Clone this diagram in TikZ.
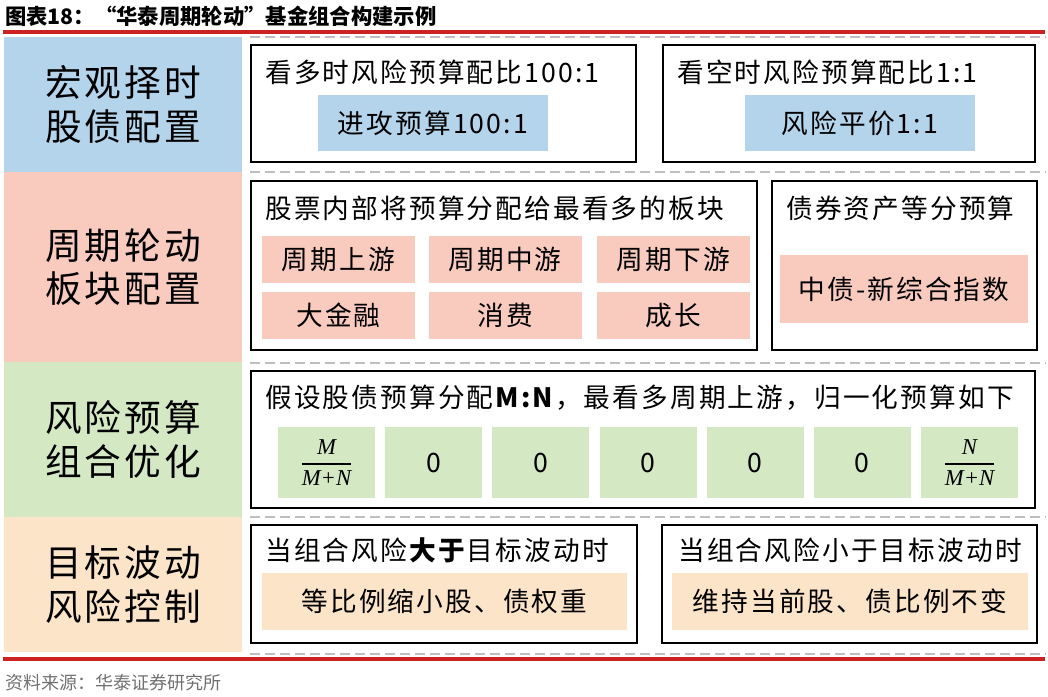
\documentclass[tikz,border=0pt]{standalone}
\usepackage{amsmath}
\usepackage{fontspec}
\setmainfont{Noto Sans CJK SC}
\newfontfamily\spacedcjk{Noto Sans CJK SC}[LetterSpace=8]
\newfontfamily\fracserif{Liberation Serif}
\usepackage{xcolor}
\usetikzlibrary{positioning}
\definecolor{titlered}{HTML}{CC2222}
\definecolor{sepgray}{HTML}{BEBEBE}
\definecolor{srcgray}{HTML}{707070}
\definecolor{skyblue}{HTML}{B3D4EB}
\definecolor{salmon}{HTML}{F8CBBE}
\definecolor{sage}{HTML}{D5E8C4}
\definecolor{peach}{HTML}{FCE4C8}
\newcommand{\wfrac}[2]{{\fracserif\itshape\fontsize{17}{19}\selectfont$\genfrac{}{}{0.9pt}{0}{\text{\rule[-3pt]{0pt}{0pt}#1}}{\text{\rule{0pt}{13pt}#2}}$}}
\tikzset{
  px/.style 2 args={minimum width=#1*0.75pt,minimum height=#2*0.75pt},
  sidebox/.style={rectangle,inner sep=0pt,align=center,font=\spacedcjk\fontsize{27.5}{32.5}\selectfont},
  panel/.style={rectangle,draw=black,line width=2pt,inner sep=0pt},
  tag/.style={rectangle,inner sep=0pt,font=\spacedcjk\fontsize{20}{24}\selectfont},
  headline/.style={anchor=west,inner sep=0pt,font=\spacedcjk\fontsize{20}{24}\selectfont},
  sepline/.style={draw=sepgray,line width=1.5pt,dash pattern=on 7.5pt off 3.75pt},
  redrule/.style={draw=titlered,line width=2.3pt}
}
\begin{document}
\begin{tikzpicture}[x=0.75pt,y=-0.75pt]
\useasboundingbox (0,0) rectangle (1048,696);
\node[anchor=west,inner sep=0pt,font=\fontsize{16}{19}\selectfont\bfseries] (title) at (5,16) {图表18：“华泰周期轮动”基金组合构建示例};
\node[anchor=west,inner sep=0pt,text=srcgray,font=\fontsize{13.5}{16}\selectfont] (source) at (5,683) {资料来源：华泰证券研究所};
\draw[redrule] (3,32) -- (1045,32);
\draw[redrule] (3,659) -- (1045,659);
\draw[sepline] (250,37) -- (1046,37);
\draw[sepline] (250,172) -- (1046,172);
\draw[sepline] (250,363) -- (1046,363);
\draw[sepline] (250,517) -- (1046,517);
\draw[sepline] (250,654) -- (1046,654);

\node[sidebox,fill=skyblue,px={238}{135}] (macro) at (123,104.5) {宏观择时\\股债配置};
\node[sidebox,fill=salmon,px={238}{190}] (cycle) at (123,267) {周期轮动\\板块配置};
\node[sidebox,fill=sage,px={238}{155}] (budget) at (123,439.5) {风险预算\\组合优化};
\node[sidebox,fill=peach,px={238}{135}] (control) at (123,584.5) {目标波动\\风险控制};

\node[panel,px={385}{117}] (bull) at (443.5,103.5) {};
\node[panel,px={372}{117}] (bear) at (849,103.5) {};
\node[headline] (bullhd) at (265,72) {看多时风险预算配比100:1};
\node[headline] (bearhd) at (677,72) {看空时风险预算配比1:1};
\node[tag,fill=skyblue,px={230}{56}] (attack) at (433,123) {进攻预算100:1};
\node[tag,fill=skyblue,px={230}{56}] (parity) at (860,123) {风险平价1:1};

\node[panel,px={506}{169}] (stock) at (504,265.5) {};
\node[panel,px={265}{169}] (bond) at (904.5,265.5) {};
\node[headline] (stockhd) at (265,208) {股票内部将预算分配给最看多的板块};
\node[headline] (bondhd) at (786,208) {债券资产等分预算};
\node[tag,fill=salmon,px={153}{47}] (up) at (338.5,259) {周期上游};
\node[tag,fill=salmon,px={153}{47}] (mid) at (505,259) {周期中游};
\node[tag,fill=salmon,px={153}{47}] (down) at (673.5,259) {周期下游};
\node[tag,fill=salmon,px={153}{47}] (fin) at (338.5,315) {大金融};
\node[tag,fill=salmon,px={153}{47}] (cons) at (505,315) {消费};
\node[tag,fill=salmon,px={153}{47}] (grow) at (673.5,315) {成长};
\node[tag,fill=salmon,px={248}{68}] (bondidx) at (904,289) {中债-新综合指数};

\node[panel,px={784}{137}] (alloc) at (643,439.5) {};
\node[headline] (allochd) at (265,398) {假设股债预算分配\textbf{M:N}，最看多周期上游，归一化预算如下};
\node[tag,fill=sage,px={97}{71}] (w0) at (326.5,462.5) {\wfrac{M}{M+N}};
\node[tag,fill=sage,px={97}{71}] (w1) at (433.7,462.5) {0};
\node[tag,fill=sage,px={97}{71}] (w2) at (540.8,462.5) {0};
\node[tag,fill=sage,px={97}{71}] (w3) at (648,462.5) {0};
\node[tag,fill=sage,px={97}{71}] (w4) at (755.2,462.5) {0};
\node[tag,fill=sage,px={97}{71}] (w5) at (862.3,462.5) {0};
\node[tag,fill=sage,px={97}{71}] (w6) at (969.5,462.5) {\wfrac{N}{M+N}};

\node[panel,px={386}{118}] (over) at (444,584) {};
\node[panel,px={375}{118}] (under) at (849.5,584) {};
\node[headline] (overhd) at (265,550) {当组合风险\textbf{大于}目标波动时};
\node[headline] (underhd) at (678,550) {当组合风险小于目标波动时};
\node[tag,fill=peach,px={365}{57}] (shrink) at (444.5,601.5) {等比例缩小股、债权重};
\node[tag,fill=peach,px={356}{57}] (keep) at (850,601.5) {维持当前股、债比例不变};
\end{tikzpicture}
\end{document}
